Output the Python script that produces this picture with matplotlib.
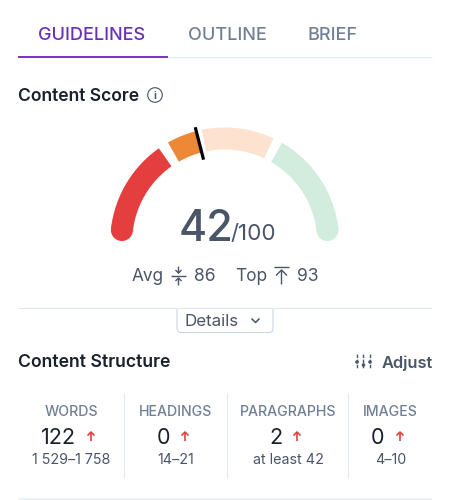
# imports
import matplotlib
matplotlib.use('Agg')
import matplotlib.pyplot as plt
from matplotlib.patches import Circle, FancyBboxPatch
import numpy as np


# data
tabs = ['GUIDELINES', 'OUTLINE', 'BRIEF']
score = 42
score_max = 100
avg_score = 86
top_score = 93

seg_starts = [3.7, 33.5, 43.6, 66.7]
seg_ends = [30.5, 42, 64, 96.3]
seg_colors = ['#e53e3e', '#ed8936', '#fde3cf', '#d2eddd']

stat_names = ['WORDS', 'HEADINGS', 'PARAGRAPHS', 'IMAGES']
stat_values = ['122', '0', '2', '0']
stat_ranges = ['1 529\u20131 758', '14\u201321', 'at least 42', '4\u201310']

# params
_W, _H = 452, 500
_cx, _cy = 224.7, 242
_r = 103.5
_sw = 22
_gray = '#718096'
_dark = '#1a202c'
_slate = '#4a5568'
_line = '#e2e8f0'


# sup func
def _ang(s):
    return np.deg2rad(180 - 1.8 * s)


def _pol(s, r):
    a = _ang(s)
    return _cx + r * np.cos(a), _cy - r * np.sin(a)


def _arc(ax, s0, s1, color):
    s_ta = np.linspace(s0, s1, 80)
    xo, yo = _pol(s_ta, _r + _sw / 2)
    xi, yi = _pol(s_ta, _r - _sw / 2)
    ax.fill(np.r_[xo, xi[::-1]], np.r_[yo, yi[::-1]], color=color, lw=0, zorder=2)


def _txt(ax, x, y, s, size, color, ha='left', weight='normal', **kw):
    return ax.text(x, y, s, fontsize=size, color=color, ha=ha, va='center_baseline',
                   fontweight=weight, **kw)


def _ln(ax, xs, ys, color=_slate, lw=1.0, **kw):
    ax.plot(xs, ys, color=color, lw=lw, solid_capstyle='butt', zorder=4, **kw)


def _uparrow(ax, x, y0, y1, color, lw=1.0, head=3.5):
    # y0 is tail, y1 is tip
    d = 1 if y0 > y1 else -1
    _ln(ax, [x, x], [y0, y1], color, lw)
    _ln(ax, [x - head, x, x + head], [y1 + d * head, y1, y1 + d * head], color, lw)


# plot creation
plt.rcParams['font.family'] = ['Inter', 'DejaVu Sans']
fig = plt.figure(figsize=(_W / 100, _H / 100), dpi=100)
ax = fig.add_axes([0, 0, 1, 1])
ax.set_xlim(0, _W)
ax.set_ylim(_H, 0)
ax.axis('off')

# tabs
for x, name, c in zip([38, 188, 307.5], tabs, ['#6b2fb5', _gray, _gray]):
    _txt(ax, x, 33, name, 13, c, weight='medium')
ax.plot([18, 432], [56.5, 56.5], color=_line, lw=0.75, solid_capstyle='butt')
ax.plot([18, 168], [57, 57], color='#7a36c8', lw=1.45, solid_capstyle='butt')

# content score header
_txt(ax, 18, 94.5, 'Content Score', 12.6, _dark, weight='semibold')
ax.add_patch(Circle((155, 95), 7.3, fc='none', ec=_slate, lw=0.8))
_txt(ax, 155, 95, 'i', 7.5, _slate, ha='center', weight='bold')

# gauge
for s0, s1, c in zip(seg_starts, seg_ends, seg_colors):
    _arc(ax, s0, s1, c)
for s, c in [(seg_starts[0], seg_colors[0]), (seg_ends[-1], seg_colors[-1])]:
    ax.add_patch(Circle(_pol(s, _r), _sw / 2, fc=c, ec='none', zorder=2))
needle = _pol(np.array([score, score]), np.array([85, 118.5]))
ax.plot(needle[0], needle[1], color='k', lw=2.3, solid_capstyle='butt', zorder=3)

_txt(ax, 178.5, 225, str(score), 31, _slate, weight='medium')
_txt(ax, 230.5, 232, f'/{score_max}', 16.1, _slate)

# avg and top
_txt(ax, 132, 274.5, 'Avg', 12.4, _slate)
_ln(ax, [171, 186], [275.5, 275.5])
_uparrow(ax, 178.5, 266, 273, _slate, head=3)
_uparrow(ax, 178.5, 285, 278, _slate, head=3)
_txt(ax, 194, 274.5, str(avg_score), 12.6, _slate)
_txt(ax, 235.5, 274.5, 'Top', 12.4, _slate)
_ln(ax, [274, 289], [267, 267])
_uparrow(ax, 281.5, 284, 270, _slate, head=5.5)
_txt(ax, 297, 274.5, str(top_score), 12.6, _slate)

# details button
ax.add_patch(FancyBboxPatch((177, 300), 96, 32.5, boxstyle='round,pad=0,rounding_size=4',
                            fc='white', ec='#cbd5e0', lw=0.75, zorder=3))
ax.fill([170, 280, 280, 170], [295, 295, 307.5, 307.5], color='white', lw=0, zorder=3)
ax.plot([18, 432], [307.5, 307.5], color=_line, lw=0.75, solid_capstyle='butt', zorder=4)
_txt(ax, 185, 320, 'Details', 12.2, _slate, zorder=5)
_ln(ax, [251.5, 255.5, 259.5], [318.5, 322.5, 318.5], _slate, 1.1)

# content structure header
_txt(ax, 18, 360.5, 'Content Structure', 12.7, _dark, weight='semibold')
for x, dy in zip([357, 363.5, 370], [362, 365, 362]):
    _ln(ax, [x, x], [353.5, 369], _slate, 1.0, ls=(0, (2.5, 1.2)))
    ax.add_patch(Circle((x, dy), 1.8, fc=_slate, ec='none', zorder=5))
_txt(ax, 381.5, 361.5, 'Adjust', 11.8, _slate, weight='semibold')

# stat columns
name_x = [71, 176, 288, 390.5]
val_x = [58.5, 163.5, 276, 378]
arrow_x = [91, 185, 297, 400]
for i in range(4):
    _txt(ax, name_x[i], 411, stat_names[i], 10.2, _gray, ha='center', weight='medium')
    _txt(ax, val_x[i], 436, stat_values[i], 15.5, _dark, ha='center')
    _uparrow(ax, arrow_x[i], 441, 432, '#e53e3e', lw=1.2, head=3.5)
    _txt(ax, name_x[i], 459, stat_ranges[i], 10.3, _slate, ha='center')
for x in [124.5, 227.5, 348.5]:
    ax.plot([x, x], [393, 478], color=_line, lw=0.75, solid_capstyle='butt')
ax.plot([18, 432], [499, 499], color='#edf2f7', lw=1.45, solid_capstyle='butt')

fig.savefig('out.png', dpi=100, facecolor='white')
